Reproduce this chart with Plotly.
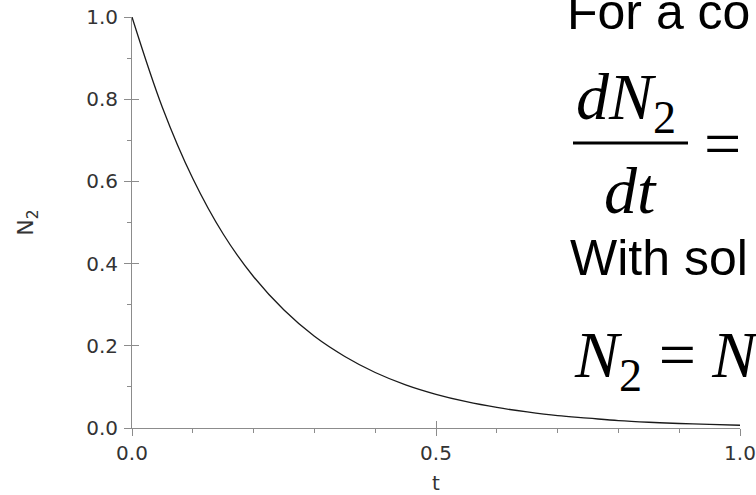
import plotly.graph_objects as go

# data
t_values = [0.0, 0.05, 0.1, 0.15, 0.2, 0.25, 0.3, 0.35, 0.4, 0.45, 0.5,
            0.55, 0.6, 0.65, 0.7, 0.75, 0.8, 0.85, 0.9, 0.95, 1.0]
n2_values = [1.0, 0.78, 0.607, 0.472, 0.368, 0.287, 0.223, 0.174, 0.135, 0.105, 0.082,
             0.064, 0.050, 0.039, 0.030, 0.024, 0.018, 0.014, 0.011, 0.0087, 0.0067]
x_tick_vals = [0.0, 0.5, 1.0]
x_tick_text = ["0.0", "0.5", "1.0"]
y_tick_vals = [0.0, 0.2, 0.4, 0.6, 0.8, 1.0]
y_tick_text = ["0.0", "0.2", "0.4", "0.6", "0.8", "1.0"]

W, H = 756, 495
ML, MR, MT, MB = 132, 16, 17, 67
PW, PH = W - ML - MR, H - MT - MB


def px(x):
    # window pixel x -> paper fraction
    return (x - ML) / PW


def py(y):
    # window pixel y -> paper fraction
    return (H - MB - y) / PH


AX = "#8c8c8c"
TXT = "#333333"
tick_font = dict(family="DejaVu Sans", size=20, color=TXT)

fig = go.Figure()
fig.add_trace(go.Scatter(x=t_values, y=n2_values, mode="lines",
                         line=dict(color="#1a1a1a", width=1.3, shape="spline"),
                         showlegend=False, hoverinfo="skip"))
# second (transparent) subplot on top, used only for the inner halves of the ticks
fig.add_trace(go.Scatter(x=[None], y=[None], xaxis="x2", yaxis="y2", mode="lines",
                         showlegend=False, hoverinfo="skip"))

common_x = dict(range=[0, 1], showgrid=False, zeroline=False, showline=True, automargin=False,
                linecolor=AX, linewidth=1, tickcolor=AX, tickwidth=1, ticklen=7,
                tickvals=x_tick_vals, ticktext=x_tick_text, domain=[0, 1],
                minor=dict(dtick=0.1, tick0=0, ticklen=4, tickcolor=AX, tickwidth=1, showgrid=False))
common_y = dict(range=[0, 1], showgrid=False, zeroline=False, showline=True, automargin=False,
                linecolor=AX, linewidth=1, tickcolor=AX, tickwidth=1, ticklen=7,
                tickvals=y_tick_vals, ticktext=y_tick_text, domain=[0, 1],
                minor=dict(dtick=0.1, tick0=0, ticklen=4, tickcolor=AX, tickwidth=1, showgrid=False))

fig.update_layout(
    width=W, height=H, margin=dict(l=ML, r=MR, t=MT, b=MB, autoexpand=False),
    paper_bgcolor="white", plot_bgcolor="rgba(0,0,0,0)",
    xaxis=dict(**common_x, ticks="outside", anchor="y", tickfont=tick_font,
               ticklabelstandoff=0, ticklabeloverflow="allow",
               title=dict(text="t", font=dict(family="DejaVu Sans", size=20, color=TXT), standoff=12)),
    yaxis=dict(**common_y, ticks="outside", anchor="x", tickfont=tick_font,
               ticklabelstandoff=2, ticklabeloverflow="allow",
               title=dict(text="N<sub>2</sub>", font=dict(family="DejaVu Sans", size=22, color=TXT), standoff=46)),
    xaxis2=dict(**common_x, ticks="inside", anchor="y2", showticklabels=False),
    yaxis2=dict(**common_y, ticks="inside", anchor="x2", showticklabels=False),
)

sans = dict(family="Liberation Sans", size=50, color="black")
serif = dict(family="Liberation Serif", size=66, color="black")

# text boxes: left and top edges in window pixels
ann = [
    dict(text="For a co", x=px(565), y=py(-18), font=sans),
    dict(text="<i>dN</i><sub>2</sub>", x=px(574), y=py(58), font=serif),
    dict(text="=", x=px(702), y=py(105), font=serif),
    dict(text="<i>dt</i>", x=px(602), y=py(152), font=serif),
    dict(text="With sol", x=px(568), y=py(228), font=sans),
    dict(text="<i>N</i><sub>2</sub> = <i>N</i>", x=px(572), y=py(316), font=serif),
]
for a in ann:
    fig.add_annotation(xref="paper", yref="paper", xanchor="left", yanchor="top",
                       showarrow=False, **a)

fig.add_shape(type="line", xref="paper", yref="paper",
              x0=px(573), x1=px(688), y0=py(143), y1=py(143),
              line=dict(color="black", width=3))

fig.write_html("out.html", config={"displayModeBar": False},
               post_script="document.body.style.margin='0';")
